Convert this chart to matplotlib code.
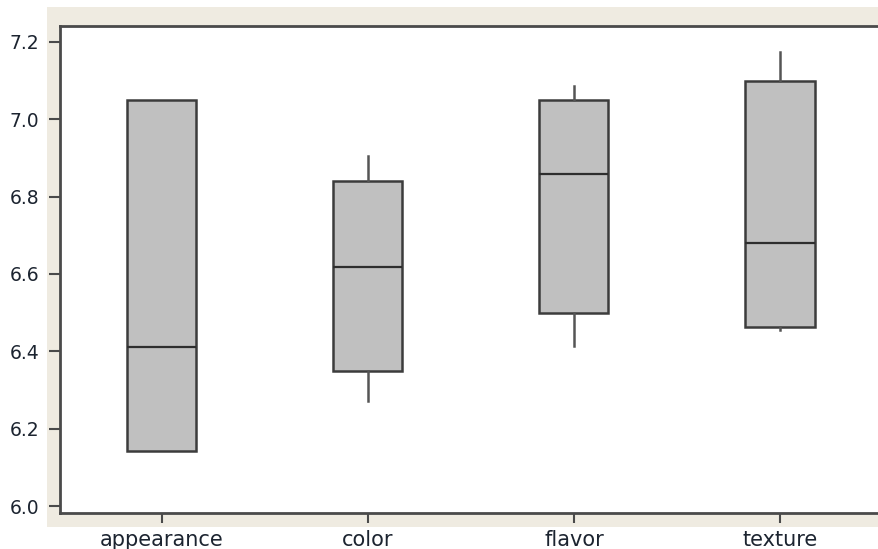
import matplotlib
matplotlib.use("Agg")
import matplotlib.pyplot as plt
from matplotlib.patches import Rectangle

categories = ["appearance", "color", "flavor", "texture"]
q1 = [6.142, 6.350, 6.500, 6.464]
medians = [6.411, 6.617, 6.858, 6.680]
q3 = [7.050, 6.839, 7.050, 7.100]
whisker_low = [6.142, 6.272, 6.414, 6.455]
whisker_high = [7.050, 6.904, 7.085, 7.175]
y_ticks = [6.0, 6.2, 6.4, 6.6, 6.8, 7.0, 7.2]

W, H = 879, 549
fig = plt.figure(figsize=(W / 100, H / 100), dpi=100)
fig.patch.set_facecolor("white")

# beige panel behind the plot frame
fig.patches.append(Rectangle((47 / W, 1 - 527 / H), 1, (527 - 7) / H,
                             transform=fig.transFigure, facecolor="#EFEBE1",
                             edgecolor="none", zorder=-5))

left, right = 60, 883
top, bottom = 26, 513
ax = fig.add_axes([left / W, 1 - bottom / H, (right - left) / W, (bottom - top) / H])
ax.set_facecolor("white")
ax.set_zorder(1)

stats = []
for i, name in enumerate(categories):
    stats.append({"label": name, "q1": q1[i], "med": medians[i], "q3": q3[i],
                  "whislo": whisker_low[i], "whishi": whisker_high[i], "fliers": []})

ax.bxp(stats, positions=[1, 2, 3, 4], widths=0.335, patch_artist=True,
       showcaps=False, showfliers=False,
       boxprops=dict(facecolor="#C0C0C0", edgecolor="#3c3c3c", linewidth=1.8),
       medianprops=dict(color="#2e2e2e", linewidth=1.6),
       whiskerprops=dict(color="#555555", linewidth=1.8))

ax.set_xlim(0.505, 4.5)
ax.set_ylim(5.982, 7.241)
ax.set_yticks(y_ticks)
ax.set_yticklabels([f"{v:.1f}" for v in y_ticks])
ax.set_xticks([1, 2, 3, 4])
ax.set_xticklabels(categories)

for side in ["left", "top", "bottom"]:
    ax.spines[side].set_color("#4a4a4a")
    ax.spines[side].set_linewidth(2)
ax.spines["right"].set_visible(False)

ax.tick_params(axis="y", length=8, width=1.5, color="#4a4a4a", pad=7,
               labelsize=13.5, labelcolor="#1c2430")
ax.tick_params(axis="x", length=7, width=1.5, color="#4a4a4a", pad=5,
               labelsize=15, labelcolor="#1c2430")

fig.savefig("out.png", dpi=100)
